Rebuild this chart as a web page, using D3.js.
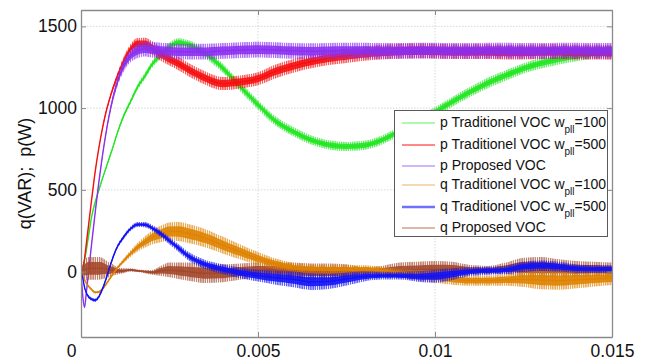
<!DOCTYPE html>
<html><head><meta charset="utf-8">
<script src="https://cdn.jsdelivr.net/npm/d3@7"></script>
<style>
body{margin:0;background:#fff}
svg{display:block;font-family:"Liberation Sans",Arial,Helvetica,sans-serif}
</style>
</head><body>
<svg id="c" width="651" height="363"></svg>
<script>
// ---- data (time in ms; power values in W / VAR) ----
const timeMs = [0,0.05,0.1,0.15,0.2, 0.3,0.4,0.5,0.6,0.7, 0.8,0.9,1.0,1.2,1.4, 1.6,1.8,2.0,2.25,2.5, 2.75,3.0,3.5,4.0,4.5, 5.0,5.5,6.0,6.5,7.0, 7.5,8.0,8.5,9.0,9.5, 10.0,10.5,11.0,11.5,12.0, 12.5,13.0,13.5,14.0,14.5, 15.0];

const pTrad100 = [0,20,70,130,200, 335,425,495,565,630, 695,760,830,950,1040, 1130,1195,1265,1325,1375, 1400,1390,1335,1245,1130, 1020,920,856,805,775, 765,772,805,860,920, 975,1040,1100,1155,1200, 1243,1275,1300,1320,1337, 1345];
const pTrad100Ripple = [4,5,6,6,6, 6,6,7,7,8, 9,10,11,13,15, 18,20,22,24,26, 27,28,28,28,28, 28,28,28,28,28, 28,28,28,28,29, 30,30,30,32,32, 32,33,33,33,33, 33];

const pTrad500 = [0,20,80,170,260, 440,610,750,870,970, 1050,1120,1180,1285,1360, 1393,1392,1370,1330,1300, 1272,1240,1185,1150,1160, 1180,1225,1258,1285,1305, 1320,1333,1342,1348,1350, 1348,1345,1345,1345,1342, 1342,1345,1345,1342,1342, 1340];
const pTrad500Ripple = [4,5,6,6,6, 7,7,8,9,10, 12,15,20,26,32, 36,38,40,40,40, 40,40,40,40,40, 40,42,42,42,42, 44,44,45,45,45, 45,45,45,45,45, 45,45,45,45,45, 45];

const pProposed = [0,-150,-218,-130,-30, 170,360,540,700,840, 960,1060,1140,1255,1320, 1350,1362,1358,1352,1348, 1345,1345,1345,1350,1355, 1358,1355,1350,1348,1350, 1352,1352,1350,1350,1352, 1352,1350,1350,1352,1352, 1350,1350,1352,1352,1350, 1350];
const pProposedRipple = [4,5,7,7,6, 6,7,8,10,12, 16,22,28,34,40, 44,46,48,48,48, 48,48,48,48,48, 48,48,48,48,48, 48,48,48,48,48, 48,48,48,48,48, 48,48,48,48,48, 48];

const qTrad100 = [0,-20,-50,-70,-86, -110,-127,-125,-108,-80, -48,-15,15,65,110, 150,180,208,230,245, 245,235,205,162,120, 80,48,26,18,15, 15,15,5,-12,-22, -30,-45,-55,-55,-50, -48,-52,-55,-50,-45, -40];
const qTrad100Ripple = [4,5,6,7,7, 8,8,8,9,9, 10,10,11,14,20, 27,34,42,50,56, 58,58,56,52,46, 40,32,27,24,24, 24,24,24,27,32, 36,36,32,32,36, 46,56,56,52,46, 42];

const qTrad500 = [0,-40,-96,-130,-150, -168,-175,-155,-110,-50, 20,85,140,210,262, 288,287,268,232,188, 145,100,45,15,-8, -25,-38,-48,-62,-60, -45,-30,-25,-25,-30, -28,-15,0,5,10, 30,36,30,18,15, 15];
const qTrad500Ripple = [4,6,8,9,10, 10,11,11,11,11, 11,12,12,13,14, 15,16,18,20,22, 24,26,28,30,32, 36,42,48,50,46, 40,30,24,24,32, 40,36,26,24,26, 32,32,30,26,24, 24];

const qProposed = [0,5,10,15,20, 20,20,20,20,15, 10,10,5,5,10, 5,0,-5,5,10, 5,0,-10,-10,0, 10,10,5,0,0, 0,0,5,10,10, 15,15,10,10,20, 25,25,20,15,15, 10];
const qProposedRipple = [15,40,60,70,70, 70,70,70,65,55, 45,35,25,15,10, 8,10,15,30,45, 50,55,60,55,50, 45,45,50,50,50, 45,25,30,45,50, 50,45,30,25,35, 60,65,55,50,45, 45];

const xTickValues = [0, 0.005, 0.01, 0.015];
const xTickLabels = ["0", "0.005", "0.01", "0.015"];
const yTickValues = [0, 500, 1000, 1500];
const yTickLabels = ["0", "500", "1000", "1500"];
const yTitle = "q(VAR);\u00a0\u00a0p(W)";

const legendMain = ["p Traditionel VOC w", "p Traditionel VOC w", "p Proposed VOC", "q Traditionel VOC w", "q Traditionel VOC w", "q Proposed VOC"];
const legendSub = ["pll", "pll", "", "pll", "pll", ""];
const legendTail = ["=100", "=500", "", "=100", "=500", ""];

// ---- series definitions (drawing order) ----
const series = [
  {key:"pTrad100", v:pTrad100, r:pTrad100Ripple, color:"#22e622"},
  {key:"pTrad500", v:pTrad500, r:pTrad500Ripple, color:"#f50f0f"},
  {key:"pProp",    v:pProposed, r:pProposedRipple, color:"#8a2ff0"},
  {key:"qProp",    v:qProposed, r:qProposedRipple, color:"#a3472a"},
  {key:"qTrad100", v:qTrad100, r:qTrad100Ripple, color:"#de8200"},
  {key:"qTrad500", v:qTrad500, r:qTrad500Ripple, color:"#1212f5"}
];
const legendColors = ["#5cf55c","#ff6060","#a070f5","#eab070","#7070ff","#c07050"];
const legendWidths = [1.2,1.6,1.2,1.2,2.6,1.2];

// ---- layout ----
const L = 81, R = 612, T = 10, B = 337;
const svg = d3.select("#c");
const x = d3.scaleLinear().domain([0, 0.015]).range([L, R]);
const y = d3.scaleLinear().domain([-400, 1600]).range([B, T]);

// grid
const grid = svg.append("g");
grid.selectAll("line.gy").data(yTickValues).join("line")
  .attr("x1", L).attr("x2", R).attr("y1", d => y(d)).attr("y2", d => y(d))
  .attr("stroke", "#d8d8d8").attr("stroke-width", 1).attr("stroke-dasharray", "1.5,1.5");
grid.selectAll("line.gx").data(xTickValues.slice(1, -1)).join("line")
  .attr("x1", d => x(d)).attr("x2", d => x(d)).attr("y1", T).attr("y2", B)
  .attr("stroke", "#d8d8d8").attr("stroke-width", 1).attr("stroke-dasharray", "1.5,1.5");

// clip + hatch patterns
const defs = svg.append("defs");
defs.append("clipPath").attr("id", "clip").append("rect")
  .attr("x", L).attr("y", T).attr("width", R - L).attr("height", B - T);
series.forEach((s, i) => {
  const p = defs.append("pattern").attr("id", "hatch" + i)
    .attr("patternUnits", "userSpaceOnUse").attr("width", 2.2).attr("height", 6);
  p.append("rect").attr("width", 1.4).attr("height", 6).attr("fill", s.color);
});

const plot = svg.append("g").attr("clip-path", "url(#clip)");
series.forEach((s, i) => {
  const pts = timeMs.map((t, k) => ({t: t / 1000, v: s.v[k], r: s.r[k]}));
  const outer = d3.area().curve(d3.curveMonotoneX)
    .x(d => x(d.t)).y0(d => y(d.v - d.r)).y1(d => y(d.v + d.r));
  const inner = d3.area().curve(d3.curveMonotoneX)
    .x(d => x(d.t)).y0(d => y(d.v - d.r * 0.55)).y1(d => y(d.v + d.r * 0.55));
  const line = d3.line().curve(d3.curveMonotoneX).x(d => x(d.t)).y(d => y(d.v));
  plot.append("path").datum(pts).attr("d", outer).attr("fill", "url(#hatch" + i + ")").attr("opacity", 0.7);
  plot.append("path").datum(pts).attr("d", inner).attr("fill", s.color).attr("opacity", 0.88);
  plot.append("path").datum(pts).attr("d", line).attr("fill", "none").attr("stroke", s.color).attr("stroke-width", 1.4);
});

// axes
const axisColor = "#8a8a8a";
const fontSize = 17.5;
const xAxis = svg.append("g").attr("transform", `translate(0,${B})`)
  .call(d3.axisBottom(x).tickValues(xTickValues).tickFormat((d, i) => xTickLabels[i])
    .tickSizeInner(-5).tickSizeOuter(0).tickPadding(8));
const yAxis = svg.append("g").attr("transform", `translate(${L},0)`)
  .call(d3.axisLeft(y).tickValues(yTickValues).tickFormat((d, i) => yTickLabels[i])
    .tickSizeInner(-5).tickSizeOuter(0).tickPadding(4));
const xTop = svg.append("g").attr("transform", `translate(0,${T})`)
  .call(d3.axisTop(x).tickValues(xTickValues).tickFormat("").tickSizeInner(-5).tickSizeOuter(0));
const yRight = svg.append("g").attr("transform", `translate(${R},0)`)
  .call(d3.axisRight(y).tickValues(yTickValues).tickFormat("").tickSizeInner(-5).tickSizeOuter(0));
[xAxis, yAxis, xTop, yRight].forEach(g => {
  g.select(".domain").attr("stroke", axisColor).attr("stroke-width", 1.3);
  g.selectAll(".tick line").attr("stroke", axisColor).attr("stroke-width", 1);
  g.selectAll("text").attr("fill", "#111").attr("font-size", fontSize)
    .attr("font-family", '"Liberation Sans",Arial,sans-serif');
});
xAxis.selectAll(".tick text").filter((d, i) => i === 0).attr("dx", -10);

// y title
svg.append("text")
  .attr("transform", `translate(31,${(T + B) / 2}) rotate(-90)`)
  .attr("text-anchor", "middle").attr("font-size", 18).attr("fill", "#111")
  .text(yTitle);

// legend
const lg = svg.append("g");
lg.append("rect").attr("x", 394.5).attr("y", 110.5).attr("width", 213).attr("height", 126)
  .attr("fill", "#fff").attr("stroke", "#5a5a5a").attr("stroke-width", 1);
const rowY = [123, 145, 166, 185, 207, 228];
legendMain.forEach((txt, i) => {
  const yy = rowY[i];
  lg.append("line").attr("x1", 402).attr("x2", 435).attr("y1", yy).attr("y2", yy)
    .attr("stroke", legendColors[i]).attr("stroke-width", legendWidths[i]);
  const t = lg.append("text").attr("x", 440).attr("y", yy + 4).attr("font-size", 14).attr("fill", "#111");
  t.append("tspan").text(txt);
  if (legendSub[i]) {
    t.append("tspan").attr("dy", 6).attr("font-size", 10).text(legendSub[i]);
    t.append("tspan").attr("dy", -6).attr("font-size", 14).text(legendTail[i]);
  }
});
</script>
</body></html>
